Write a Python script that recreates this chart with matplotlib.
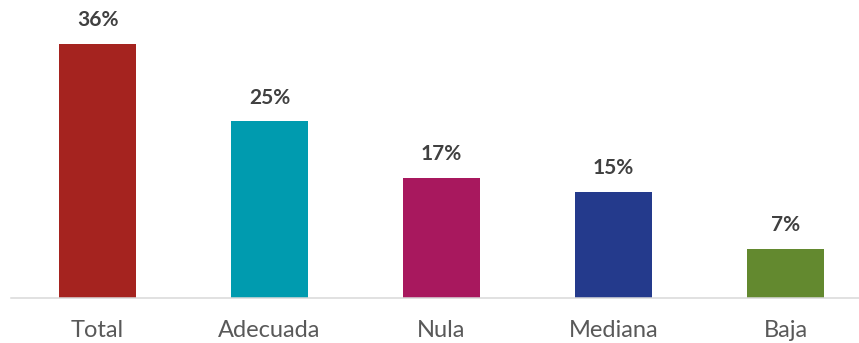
import matplotlib.pyplot as plt

# porcentaje por categoria
categorias = ["Total", "Adecuada", "Nula", "Mediana", "Baja"]
valores = [36, 25, 17, 15, 7]
colores = ["#A5231F", "#009BAF", "#A8185E", "#243A8C", "#63892F"]

plt.rcParams['font.family'] = ['Lato', 'DejaVu Sans']

fig = plt.figure(figsize=(8.59, 3.43), dpi=100)
ax = fig.add_axes([11/859, 45/343, 848/859, 298/343])

x = range(len(categorias))
barras = ax.bar(x, valores, width=0.448, color=colores)

for b, v in zip(barras, valores):
    ax.annotate(f"{v}%", (b.get_x() + b.get_width()/2, v),
                xytext=(0, 10), textcoords="offset points",
                ha="center", va="bottom", fontsize=15, fontweight="bold",
                color="#404040")

ax.set_xlim(-0.503, 4.427)
ax.set_ylim(0, 42.2)
ax.set_xticks(list(x))
ax.set_xticklabels(categorias, fontsize=17, color="#595959")
ax.tick_params(axis="x", length=0, pad=16)
ax.set_yticks([])

for s in ["top", "right", "left"]:
    ax.spines[s].set_visible(False)
ax.spines["bottom"].set_color("#d9d9d9")
ax.spines["bottom"].set_linewidth(1.1)

fig.savefig("out.png", dpi=100)
